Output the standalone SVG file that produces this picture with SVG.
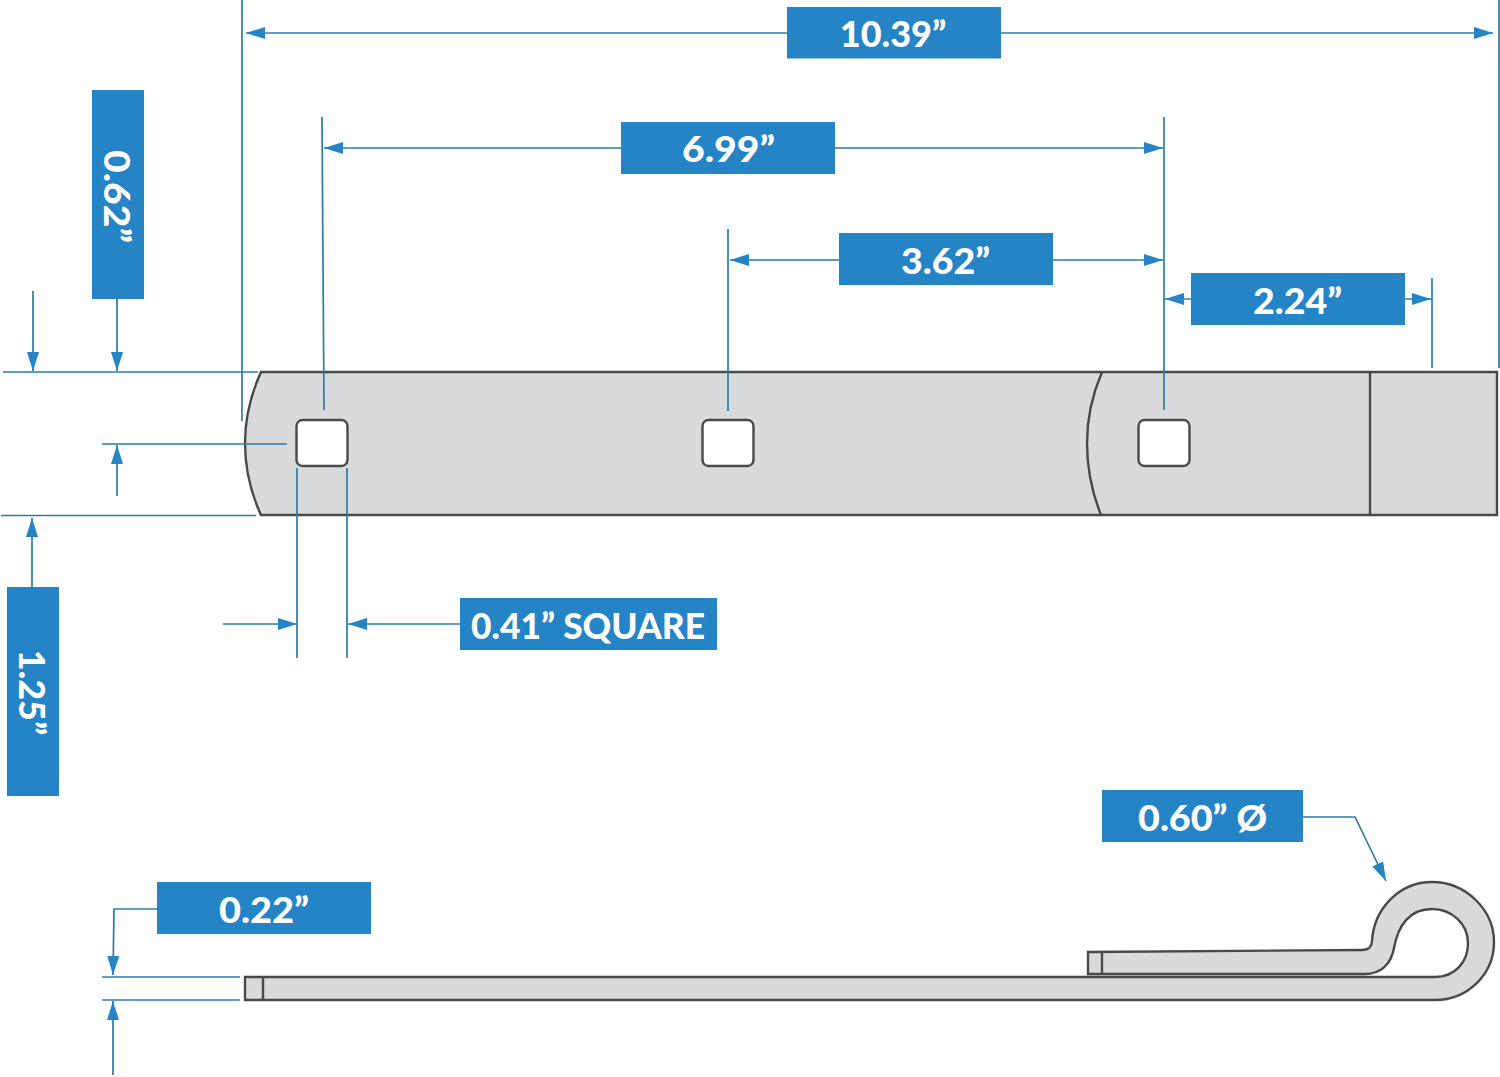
<svg xmlns="http://www.w3.org/2000/svg" width="1500" height="1077" viewBox="0 0 1500 1077">
<style>
.box{fill:#2484c6}
.t{font-family:"Lato","Liberation Sans",sans-serif;font-weight:900;font-size:36px;fill:#fff;text-anchor:middle;dominant-baseline:central}
.d{fill:none;stroke:#2f7ba6;stroke-width:1.7}
.a{fill:none;stroke:#2f7ba6;stroke-width:1.7;marker-end:url(#ah)}
.aa{fill:none;stroke:#2f7ba6;stroke-width:1.7;marker-start:url(#ahs);marker-end:url(#ah)}
.part{fill:#d9dadc;stroke:#47494b;stroke-width:2.400}
.hole{fill:#fff;stroke:#47494b;stroke-width:2.400}
.ln{fill:none;stroke:#47494b;stroke-width:2.400}
</style>
<defs>
<marker id="ah" markerUnits="userSpaceOnUse" markerWidth="20" markerHeight="14" refX="19" refY="7" orient="auto"><path d="M0 1 L19 7 L0 13 Z" fill="#2484c6"/></marker>
<marker id="ahs" markerUnits="userSpaceOnUse" markerWidth="20" markerHeight="14" refX="1" refY="7" orient="auto"><path d="M20 1 L1 7 L20 13 Z" fill="#2484c6"/></marker>
</defs>
<g id="plate">
<path class="part" d="M261 372 H1497 V515 H261 Q245 480 245 443 Q245 407 261 372 Z"/>
<path class="ln" d="M1102 372 Q1087 407 1087 443 Q1087 480 1101 515"/>
<path class="ln" d="M1370 372 V515"/>
<rect class="hole" x="296.500" y="420" width="51" height="46" rx="6"/>
<rect class="hole" x="702.500" y="420" width="51" height="46" rx="6"/>
<rect class="hole" x="1138.500" y="420" width="51" height="46" rx="6"/>
</g>
<g id="hook">
<path class="part" d="M245 977 H1435 C1455 977 1468 962 1468 943 C1468 924 1452 909 1432 909 C1410 909 1398 925 1394 948 C1391 965 1380 974 1365 974 H1088 V952 L1362 950 C1369 950 1372 946 1372 941 C1374 908 1400 882 1432 882 C1466 882 1494 910 1494 942 C1494 975 1467 1000 1435 1000 H245 Z"/>
<path class="ln" d="M263 977 V1000"/>
<path class="ln" d="M1102 952 V974"/>
</g>
<g id="connectors">
<path class="d" d="M242 0 V421"/>
<path class="d" d="M1499 0 V368"/>
<path class="d" d="M322 117 L324 410"/>
<path class="d" d="M1164 117 V410"/>
<path class="d" d="M728 229 V411"/>
<path class="d" d="M1432 278 V368"/>
<path class="d" d="M3 372 H258"/>
<path class="d" d="M102 444 H287"/>
<path class="d" d="M1 515.500 H256"/>
<path class="d" d="M297 468 V658"/>
<path class="d" d="M347 468 V658"/>
<path class="d" d="M102 977 H240"/>
<path class="d" d="M102 1000 H240"/>
<path class="aa" d="M246 33 H1493"/>
<path class="aa" d="M324 148 H1163"/>
<path class="aa" d="M730 260 H1163"/>
<path class="aa" d="M1165 299 H1431"/>
<path class="a" d="M33 291 V371"/>
<path class="a" d="M117 299 V371"/>
<path class="a" d="M117 496 V445"/>
<path class="a" d="M32 587 V518"/>
<path class="a" d="M223 624 H297"/>
<path class="a" d="M460 624 H348"/>
<path class="a" d="M1303 817 H1355 L1386 881"/>
<path class="a" d="M157 909 H114 L113 975"/>
<path class="a" d="M113 1075 V1001"/>
</g>
<g id="label-1039"><rect class="box" x="787" y="7" width="214" height="51.500"/><text class="t" x="893" y="33">10.39”</text></g>
<g id="label-699"><rect class="box" x="621" y="122" width="214" height="52"/><text class="t" x="728.500" y="148" textLength="93" lengthAdjust="spacingAndGlyphs">6.99”</text></g>
<g id="label-362"><rect class="box" x="839" y="233" width="214" height="52"/><text class="t" x="945.500" y="259.500" textLength="89" lengthAdjust="spacingAndGlyphs">3.62”</text></g>
<g id="label-224"><rect class="box" x="1191" y="273" width="214" height="52"/><text class="t" x="1297.500" y="299.500" textLength="89" lengthAdjust="spacingAndGlyphs">2.24”</text></g>
<g id="label-062"><rect class="box" x="92" y="90" width="52" height="209"/><text class="t" transform="translate(118 196.500) rotate(90)" textLength="93" lengthAdjust="spacingAndGlyphs">0.62”</text></g>
<g id="label-125"><rect class="box" x="7" y="587" width="52" height="209"/><text class="t" transform="translate(33 692.500) rotate(90)">1.25”</text></g>
<g id="label-041"><rect class="box" x="460" y="598" width="257" height="52"/><text class="t" x="588" y="624.500" textLength="234" lengthAdjust="spacingAndGlyphs">0.41” SQUARE</text></g>
<g id="label-060"><rect class="box" x="1102" y="790" width="201" height="52"/><text class="t" x="1202.500" y="816.500" textLength="129" lengthAdjust="spacingAndGlyphs">0.60” Ø</text></g>
<g id="label-022"><rect class="box" x="157" y="882" width="214" height="52"/><text class="t" x="264" y="908.500" textLength="90" lengthAdjust="spacingAndGlyphs">0.22”</text></g>
</svg>
